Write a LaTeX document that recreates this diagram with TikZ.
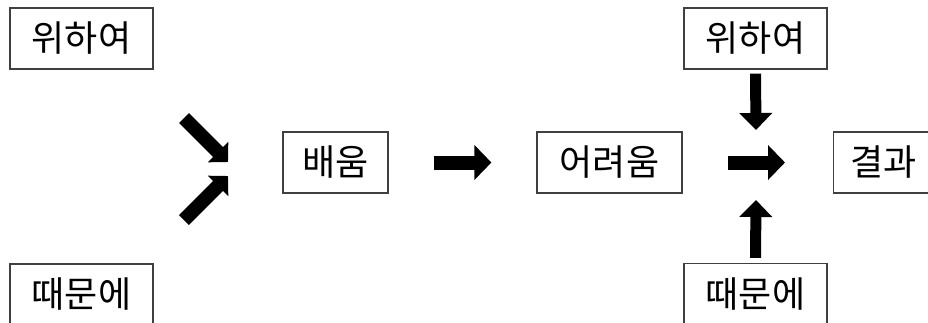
\documentclass[tikz,border=0pt]{standalone}
\usepackage{fontspec}
\newfontfamily\kor{Noto Sans CJK KR}
\usetikzlibrary{arrows.meta}
\tikzset{
	box/.style={draw=black!75,line width=1.2pt,minimum height=61pt,inner xsep=14pt,inner ysep=0pt,font=\kor\fontsize{36pt}{42pt}\selectfont},
	bigarrow/.style={line width=14pt,-{Triangle[length=17pt,width=34pt]}},
	thinarrow/.style={line width=11pt,-{Triangle[length=17pt,width=32pt]}},
	diagarrow/.style={line width=14pt,-{Triangle[length=14pt,width=28pt]}}
}
\begin{document}
\begin{tikzpicture}[x=1pt,y=-1pt]
		\useasboundingbox (0,0) rectangle (928,322);
		\node [box,minimum width=143pt] at (81.5,38.5) (wiL) {위하여};
		\node [box,minimum width=143pt] at (81.5,294.5) (ttL) {때문에};
		\node [box,minimum width=105pt] at (335.5,162.5) (baeum) {배움};
		\node [box,minimum width=145pt] at (609.5,162.5) (eoryeoum) {어려움};
		\node [box,minimum width=100pt,anchor=west] at (833,162.5) (gyeolgwa) {결과};
		\node [box,minimum width=143pt] at (755.5,38.5) (wiR) {위하여};
		\node [box,minimum width=143pt] at (755.5,294) (ttR) {때문에};
		\coordinate (tipA) at (228,162);
		\coordinate (tipB) at (228,176);
		\coordinate (tipC) at (756,130);
		\coordinate (tipD) at (756,200);
		\draw [diagarrow] (184,118) -- (tipA);
		\draw [diagarrow] (184,220) -- (tipB);
		\draw [bigarrow] ([xshift=45pt]baeum.east) -- ([xshift=-45pt]eoryeoum.west);
		\draw [bigarrow] ([xshift=45pt]eoryeoum.east) -- ([xshift=-48pt]gyeolgwa.west);
		\draw [thinarrow] ([yshift=-4pt]wiR.south) -- (tipC);
		\draw [thinarrow] ([yshift=5pt]ttR.north) -- (tipD);
	\end{tikzpicture}
\end{document}
